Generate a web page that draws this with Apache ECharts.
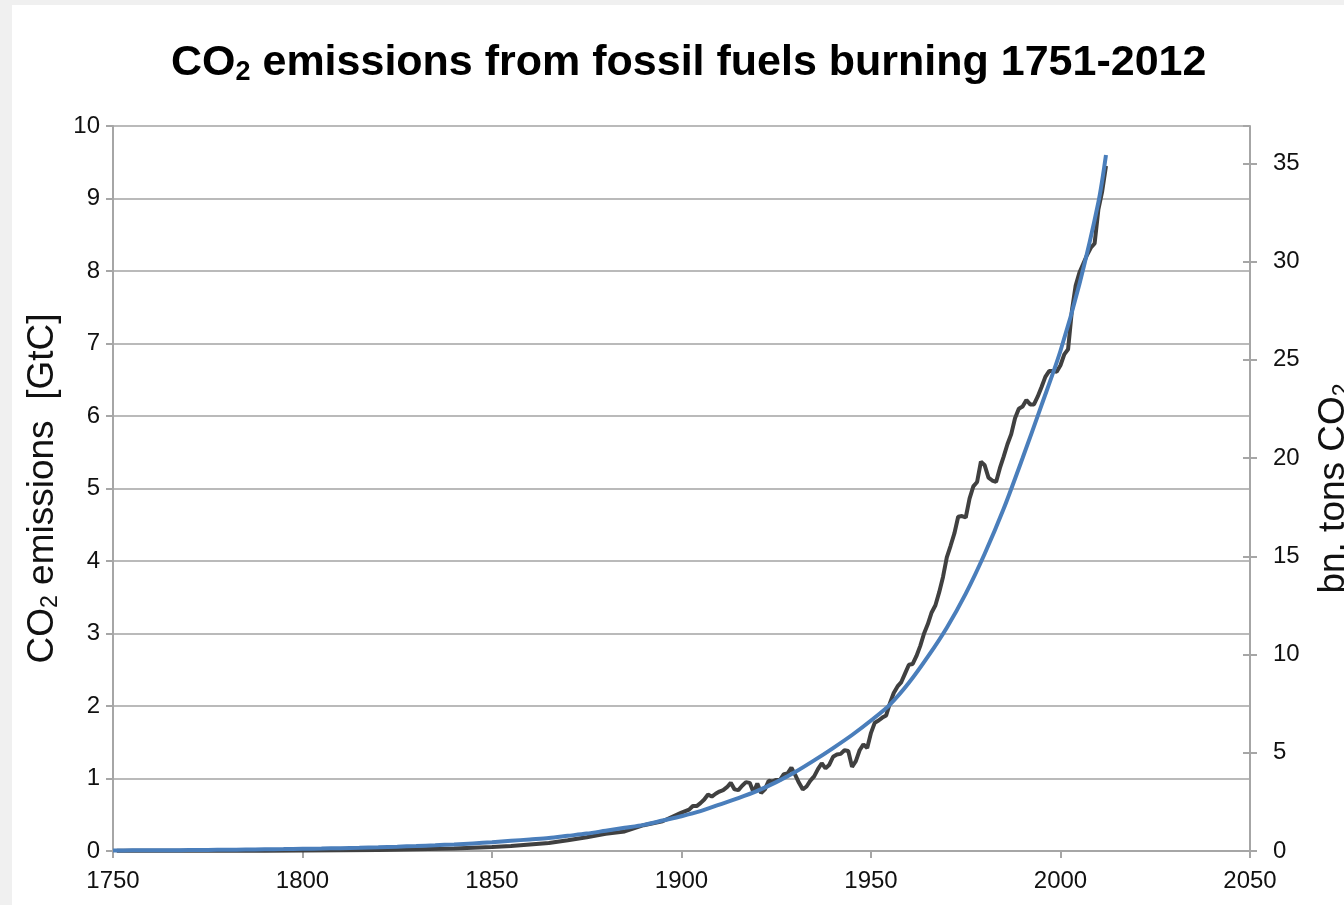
<!DOCTYPE html>
<html>
<head>
<meta charset="utf-8">
<title>CO2 emissions from fossil fuels burning 1751-2012</title>
<script src="https://cdn.jsdelivr.net/npm/echarts/dist/echarts.min.js"></script>
<style>
  html, body { margin: 0; padding: 0; background: #f0f0f0; overflow: hidden; }
  #main { position: absolute; left: 12px; top: 5px; width: 1360px; height: 920px; background: #fff; }
</style>
</head>
<body>
<div id="main"></div>
<script>
// measured emissions, GtC (black line)
var emissionYears = [
  1751, 1760, 1770, 1780, 1790, 1800, 1810, 1820, 1830, 1840,
  1850, 1855, 1860, 1865, 1870, 1875, 1880, 1885, 1890, 1895,
  1900, 1901, 1902, 1903, 1904, 1905, 1906, 1907, 1908, 1909,
  1910, 1911, 1912, 1913, 1914, 1915, 1916, 1917, 1918, 1919,
  1920, 1921, 1922, 1923, 1924, 1925, 1926, 1927, 1928, 1929,
  1930, 1931, 1932, 1933, 1934, 1935, 1936, 1937, 1938, 1939,
  1940, 1941, 1942, 1943, 1944, 1945, 1946, 1947, 1948, 1949,
  1950, 1951, 1952, 1953, 1954, 1955, 1956, 1957, 1958, 1959,
  1960, 1961, 1962, 1963, 1964, 1965, 1966, 1967, 1968, 1969,
  1970, 1971, 1972, 1973, 1974, 1975, 1976, 1977, 1978, 1979,
  1980, 1981, 1982, 1983, 1984, 1985, 1986, 1987, 1988, 1989,
  1990, 1991, 1992, 1993, 1994, 1995, 1996, 1997, 1998, 1999,
  2000, 2001, 2002, 2003, 2004, 2005, 2006, 2007, 2008, 2009,
  2010, 2011, 2012
]
var emissionGtC = [
  0.003, 0.003, 0.003, 0.004, 0.005, 0.008, 0.010, 0.014, 0.024, 0.033,
  0.054, 0.070, 0.091, 0.110, 0.147, 0.190, 0.236, 0.270, 0.356, 0.410,
  0.53, 0.55, 0.57, 0.62, 0.62, 0.66, 0.71, 0.78, 0.75, 0.79,
  0.82, 0.84, 0.88, 0.94, 0.85, 0.84, 0.90, 0.95, 0.94, 0.81,
  0.93, 0.80, 0.85, 0.97, 0.96, 0.98, 0.98, 1.06, 1.07, 1.15,
  1.05, 0.94, 0.85, 0.89, 0.97, 1.03, 1.13, 1.21, 1.14, 1.19,
  1.30, 1.33, 1.34, 1.39, 1.38, 1.16, 1.24, 1.39, 1.47, 1.42,
  1.63, 1.77, 1.80, 1.84, 1.87, 2.04, 2.18, 2.27, 2.33, 2.45,
  2.57, 2.58, 2.69, 2.83, 3.00, 3.13, 3.29, 3.39, 3.57, 3.78,
  4.05, 4.21, 4.38, 4.61, 4.62, 4.60, 4.86, 5.03, 5.09, 5.37,
  5.32, 5.15, 5.11, 5.09, 5.28, 5.44, 5.61, 5.75, 5.97, 6.10,
  6.13, 6.22, 6.16, 6.16, 6.27, 6.40, 6.54, 6.62, 6.62, 6.61,
  6.70, 6.85, 6.92, 7.45, 7.80, 7.98, 8.10, 8.22, 8.32, 8.38,
  8.85, 9.10, 9.45
]
// trend line (blue line), every 5 years
var trendYears = [
  1750, 1755, 1760, 1765, 1770, 1775, 1780, 1785, 1790, 1795,
  1800, 1805, 1810, 1815, 1820, 1825, 1830, 1835, 1840, 1845,
  1850, 1855, 1860, 1865, 1870, 1875, 1880, 1885, 1890, 1895,
  1900, 1905, 1910, 1915, 1920, 1925, 1930, 1935, 1940, 1945,
  1950, 1955, 1960, 1965, 1970, 1975, 1980, 1985, 1990, 1995,
  2000, 2005, 2010, 2012
]
var trendGtC = [
  0.007, 0.009, 0.010, 0.011, 0.013, 0.015, 0.017, 0.020, 0.023, 0.026,
  0.030, 0.034, 0.039, 0.045, 0.052, 0.060, 0.069, 0.079, 0.091, 0.105,
  0.12, 0.14, 0.16, 0.18, 0.21, 0.24, 0.28, 0.32, 0.36, 0.42,
  0.48, 0.55, 0.64, 0.73, 0.83, 0.95, 1.09, 1.25, 1.42, 1.60,
  1.80, 2.02, 2.32, 2.68, 3.08, 3.55, 4.10, 4.72, 5.42, 6.15,
  6.90, 7.82, 8.95, 9.60
]
// axes
var xTicks = [1750, 1800, 1850, 1900, 1950, 2000, 2050]
var gtcMax = 10
var co2Max = 36.9 // bn. tons CO2 matching 10 GtC on the picture

function pairs(xs, ys) {
  return xs.map(function (x, i) { return [x, ys[i]] })
}

var font = 'Liberation Sans, Arial, sans-serif'
var axisGray = '#a6a6a6'
var nameRich = {
  t: { fontSize: 37, color: '#111', fontFamily: font, lineHeight: 40 },
  s: { fontSize: 23, color: '#111', fontFamily: font, lineHeight: 22, verticalAlign: 'bottom' }
}

var myChart = echarts.init(document.getElementById('main'))
var option = {
  backgroundColor: '#fff',
  animation: false,
  textStyle: { fontFamily: font },
  title: {
    text: '{t|CO}{s|2}{t| emissions from fossil fuels burning 1751-2012}',
    left: 154,
    top: 30,
    textStyle: {
      rich: {
        t: { fontSize: 43, fontWeight: 'bold', color: '#000', fontFamily: font, lineHeight: 46 },
        s: { fontSize: 27, fontWeight: 'bold', color: '#000', fontFamily: font, lineHeight: 24, verticalAlign: 'bottom' }
      }
    }
  },
  grid: { left: 101, top: 121, width: 1137, height: 725 },
  xAxis: {
    type: 'value',
    min: xTicks[0],
    max: xTicks[xTicks.length - 1],
    interval: 50,
    axisLine: { lineStyle: { color: axisGray, width: 2 } },
    axisTick: { show: true, length: 7, lineStyle: { color: axisGray, width: 2 } },
    axisLabel: {
      fontSize: 24, color: '#111', margin: 18, fontFamily: font,
      formatter: function (v) { return String(v) }
    },
    splitLine: { show: false }
  },
  yAxis: [
    {
      type: 'value',
      min: 0,
      max: gtcMax,
      interval: 1,
      name: '{t|CO}{s|2}{t| emissions  [GtC]}',
      nameLocation: 'middle',
      nameRotate: 90,
      nameGap: 49,
      nameTextStyle: { rich: nameRich },
      axisLine: { show: true, lineStyle: { color: axisGray, width: 2 } },
      axisTick: { show: true, length: 7, lineStyle: { color: axisGray, width: 2 } },
      axisLabel: { fontSize: 24, color: '#111', margin: 13, fontFamily: font },
      splitLine: { show: true, lineStyle: { color: '#bababa', width: 2 } }
    },
    {
      type: 'value',
      position: 'right',
      min: 0,
      max: co2Max,
      interval: 5,
      name: '{t|bn. tons CO}{s|2}',
      nameLocation: 'middle',
      nameRotate: 90,
      nameGap: 64,
      nameTextStyle: { rich: nameRich },
      axisLine: { show: true, lineStyle: { color: axisGray, width: 2 } },
      axisTick: { show: true, length: 7, lineStyle: { color: axisGray, width: 2 } },
      axisLabel: { fontSize: 24, color: '#111', margin: 23, fontFamily: font, showMaxLabel: false },
      splitLine: { show: false }
    },
    {
      // inner half of the crossing ticks on the right axis
      type: 'value',
      position: 'right',
      offset: 0,
      min: 0,
      max: co2Max,
      interval: 5,
      axisLine: { show: false },
      axisTick: { show: true, inside: true, length: 7, lineStyle: { color: axisGray, width: 2 } },
      axisLabel: { show: false },
      splitLine: { show: false }
    }
  ],
  series: [
    {
      name: 'emissions',
      type: 'line',
      yAxisIndex: 0,
      data: pairs(emissionYears, emissionGtC),
      showSymbol: false,
      lineStyle: { color: '#404040', width: 4 },
      z: 2
    },
    {
      name: 'trend',
      type: 'line',
      yAxisIndex: 0,
      data: pairs(trendYears, trendGtC),
      smooth: 0.3,
      showSymbol: false,
      lineStyle: { color: '#4a7ebb', width: 4 },
      z: 3
    }
  ]
}
myChart.setOption(option)
</script>
</body>
</html>
